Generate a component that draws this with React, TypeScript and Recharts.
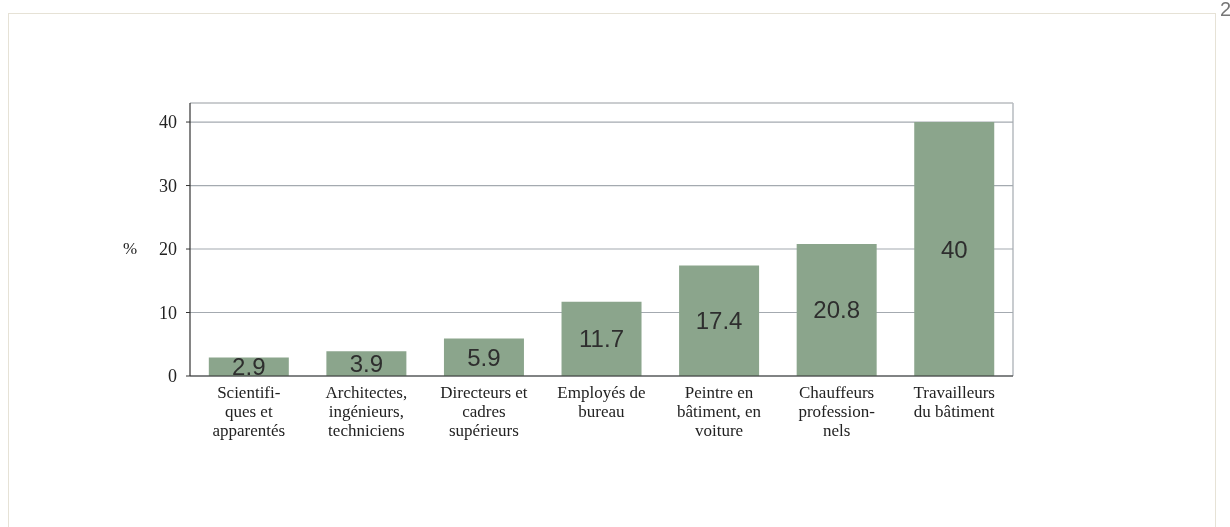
import { BarChart, Bar, XAxis, YAxis, CartesianGrid, ReferenceLine, LabelList } from "recharts";

const categories = [
  "Scientifi-\nques et\napparentés",
  "Architectes,\ningénieurs,\ntechniciens",
  "Directeurs et\ncadres\nsupérieurs",
  "Employés de\nbureau",
  "Peintre en\nbâtiment, en\nvoiture",
  "Chauffeurs\nprofession-\nnels",
  "Travailleurs\ndu bâtiment",
];
const values = [2.9, 3.9, 5.9, 11.7, 17.4, 20.8, 40];
const yTicks = [0, 10, 20, 30, 40];

const data = categories.map((name, i) => ({ name, value: values[i] }));

const serif = "'Liberation Serif', 'DejaVu Serif', serif";

function CategoryTick(props: any) {
  const { x, y, payload } = props;
  const lines = String(payload.value).split("\n");
  return (
    <text x={x} y={y} textAnchor="middle" fill="#222" fontFamily={serif} fontSize={17}>
      {lines.map((line, i) => (
        <tspan key={i} x={x} dy={i === 0 ? 14 : 19}>
          {line}
        </tspan>
      ))}
    </text>
  );
}

export default function App() {
  return (
    <div style={{ position: "fixed", left: 0, top: 0, width: 1230, height: 527, background: "#fff" }}>
      <div
        style={{
          position: "absolute",
          left: 8,
          top: 13,
          width: 1206,
          height: 514,
          borderLeft: "1px solid #e6e2d6",
          borderTop: "1px solid #e6e2d6",
          borderRight: "1px solid #e6e2d6",
        }}
      />
      <div
        style={{
          position: "absolute",
          left: 1220,
          top: -2,
          fontFamily: "'Liberation Sans', sans-serif",
          fontSize: 20,
          color: "#777",
        }}
      >
        2
      </div>
      <div style={{ position: "absolute", left: 0, top: 0 }}>
        <BarChart
          width={1230}
          height={527}
          data={data}
          margin={{ top: 103, right: 217, bottom: 0, left: 0 }}
          barCategoryGap="16%"
        >
          <CartesianGrid
            stroke="#a4aab0"
            strokeWidth={1.2}
            verticalCoordinatesGenerator={({ offset }: any) => [offset.left + offset.width]}
            verticalFill={[]}
          />
          <ReferenceLine y={43} stroke="#c4c6c8" strokeWidth={1} />
          <XAxis
            dataKey="name"
            interval={0}
            tick={<CategoryTick />}
            tickLine={false}
            axisLine={{ stroke: "#333", strokeWidth: 1.2 }}
            height={151}
          />
          <YAxis
            width={190}
            domain={[0, 43]}
            ticks={yTicks}
            allowDataOverflow
            tickSize={4}
            tickMargin={9}
            tick={{ fill: "#222", fontFamily: serif, fontSize: 18 }}
            tickLine={{ stroke: "#333" }}
            axisLine={{ stroke: "#333", strokeWidth: 1.2 }}
            label={{
              value: "%",
              position: "insideLeft",
              offset: 0,
              dx: 123,
              dy: 8,
              fill: "#222",
              fontFamily: serif,
              fontSize: 17,
              textAnchor: "start",
            }}
          />
          <Bar dataKey="value" fill="#8ba58c" isAnimationActive={false}>
            <LabelList
              dataKey="value"
              position="center"
              fill="#2e2e2e"
              fontFamily="'Liberation Sans', Arial, sans-serif"
              fontSize={24}
            />
          </Bar>
        </BarChart>
      </div>
    </div>
  );
}
